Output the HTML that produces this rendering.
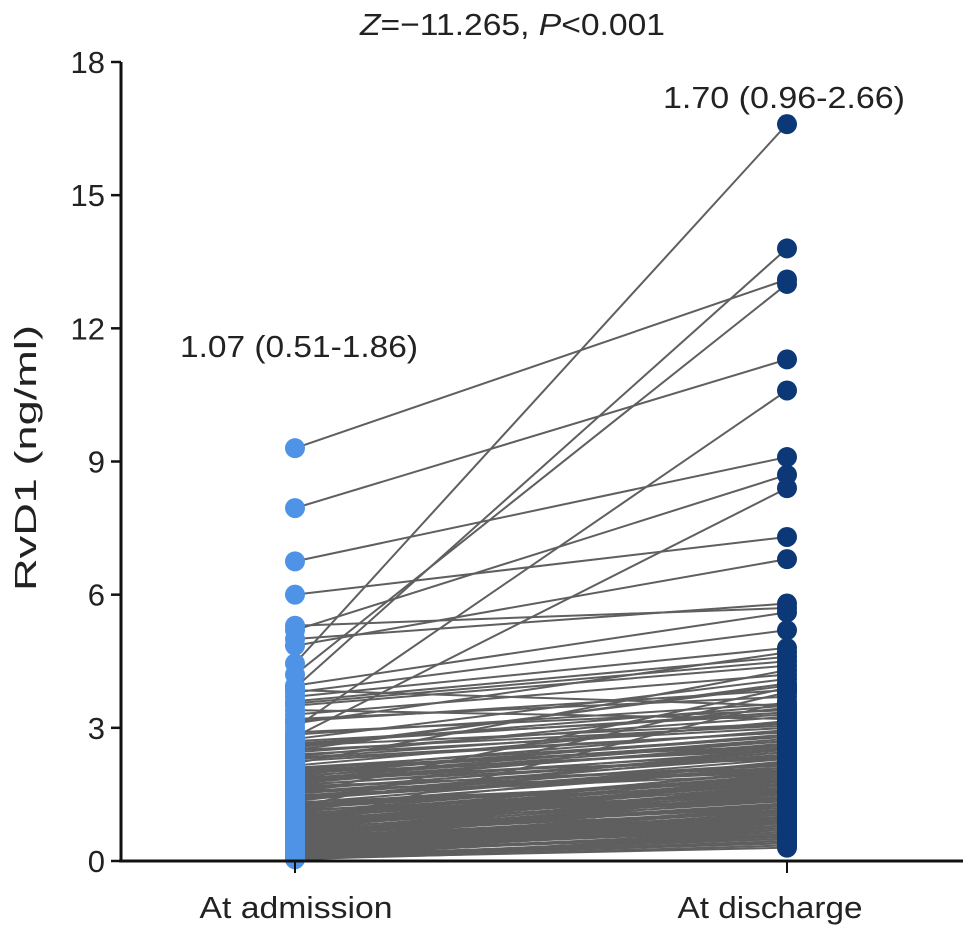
<!DOCTYPE html>
<html><head><meta charset="utf-8"><style>
body{margin:0;background:#fff;width:969px;height:938px;overflow:hidden}
svg text{font-family:"Liberation Sans",Arial,sans-serif;fill:#222}
</style></head><body>
<svg id="chart" width="969" height="938" viewBox="0 0 969 938"></svg>
<script>
const groups = ["At admission", "At discharge"];
const yTicks = [0, 3, 6, 9, 12, 15, 18];
const admission = [9.3,7.95,6.75,6.0,5.3,5.2,5.0,4.85,4.45,4.2,3.9,3.0,2.8,3.8,3.7,3.85,3.6,3.5,3.3,2.5,1.5,3.95,3.1,2.2,1.2,0.8,
3.4,3.2,2.9,2.7,2.6,2.4,2.3,2.1,2.0,1.9,1.8,1.7,1.6,1.45,1.4,1.3,1.25,1.1,1.05,1.0,0.95,0.9,0.85,0.75,0.7,0.65,0.6,0.55,0.5,0.45,0.4,0.35,0.3,0.25,0.2,0.15,0.1,0.05,
2.75,2.55,2.35,2.15,1.95,1.75,1.55,1.35,1.15,0.98,0.88,0.78,0.68,0.58,0.48,0.38,0.28,0.18,0.12,0.08,
3.55,3.15,2.85,2.45,2.05,1.65,1.22,1.02,0.92,0.72,0.52,0.42,0.32,0.22,0.14,0.06,1.85,1.62,1.38,1.18,0.82,0.62,0.36,0.24,
2.65,2.5,2.25,2.1,1.98,1.88,1.78,1.68,1.58,1.48,1.32,1.28,1.15,1.08,0.97,0.87,0.77,0.67,0.57,0.47,0.37,0.27,0.17,0.11,0.07,0.04,
1.92,1.72,1.52,1.42,1.26,1.12,0.99,0.89,0.79,0.69,0.59,0.49,0.39,0.29,0.19,0.13,0.09,0.05,2.62,2.32,2.02,1.82,1.44,1.06,0.86,0.66,0.46,0.26,0.16,0.1];
const discharge = [13.1,11.3,9.1,7.3,5.7,8.7,5.8,6.8,16.6,13.0,13.8,10.6,8.4,5.2,4.8,3.5,4.6,4.4,4.2,4.0,3.9,5.6,4.7,4.3,3.8,3.6,
3.2,3.7,3.4,3.3,3.1,3.0,2.9,2.8,2.7,2.75,2.6,2.5,2.45,2.4,2.3,2.2,2.1,2.0,1.95,1.9,1.85,1.8,1.7,1.6,1.55,1.5,1.45,1.4,1.3,1.2,1.15,1.1,1.0,0.95,0.9,0.8,0.7,0.6,
4.1,3.95,3.45,3.15,2.85,2.65,2.35,2.55,2.25,2.05,1.75,1.65,1.35,1.25,1.05,0.85,0.75,0.65,0.5,0.45,
4.5,3.85,3.55,3.25,2.95,2.15,1.9,1.72,1.58,1.42,1.12,0.98,0.88,0.55,0.4,0.3,2.7,2.4,2.2,1.9,1.6,1.3,0.9,0.7,
3.35,3.05,2.9,2.6,2.5,2.3,2.45,2.1,2.0,1.95,1.8,1.7,1.6,1.5,1.4,1.35,1.2,1.1,1.0,0.9,0.8,0.7,0.6,0.5,0.4,0.35,
2.55,2.35,2.2,2.05,1.85,1.75,1.65,1.55,1.45,1.25,1.15,1.05,0.95,0.85,0.75,0.65,0.55,0.45,3.5,3.1,2.8,2.6,2.1,1.8,1.5,1.2,1.0,0.8,0.6,0.5];
const summaries = ["1.07 (0.51-1.86)", "1.70 (0.96-2.66)"];

const NS="http://www.w3.org/2000/svg";
const svg=document.getElementById('chart');
const X0=121, XEND=963, Y0=861, Y18=62;
const y=v=>Y0-(v/18)*(Y0-Y18);
const xPos=[295,787];
const x=i=>xPos[i];
function mk(tag,attrs,text){const e=document.createElementNS(NS,tag);for(const k in attrs)e.setAttribute(k,attrs[k]);if(text!=null)e.textContent=text;svg.appendChild(e);return e;}

for(let i=0;i<admission.length;i++){
  const l=mk('line',{x1:x(0),y1:y(admission[i]),x2:x(1),y2:y(discharge[i]),stroke:'#5f5f5f','stroke-width':2});
  
  
}
const cols=['#4f93e6','#0d3878'];
[admission,discharge].forEach((arr,g)=>{
  arr.forEach(v=>{
    const c=mk('circle',{cx:x(g),cy:y(v),r:10,fill:cols[g]});
    
    
  });
});
let a=mk('line',{x1:X0,y1:Y18,x2:X0,y2:Y0+1,stroke:'#111','stroke-width':3});


a=mk('line',{x1:X0-2,y1:Y0,x2:XEND,y2:Y0,stroke:'#111','stroke-width':3});


yTicks.forEach(t=>{
  const tk=mk('line',{x1:X0-10,y1:y(t),x2:X0,y2:y(t),stroke:'#111','stroke-width':2.5});
  
  
  const lb=mk('text',{x:X0-16,y:y(t)+11,'text-anchor':'end','font-size':31},String(t));
  
  
});
const xlw=[193,185], xlc=[296,770];
groups.forEach((g,i)=>{
  const tk=mk('line',{x1:x(i),y1:Y0,x2:x(i),y2:Y0+12,stroke:'#111','stroke-width':2});
  
  
  const lb=mk('text',{x:xlc[i]-xlw[i]/2,y:918,'font-size':31,textLength:xlw[i],lengthAdjust:'spacingAndGlyphs'},g);
  
  
});
let t=mk('text',{x:0,y:0,'font-size':31,textLength:266,lengthAdjust:'spacingAndGlyphs',transform:'translate(36 591) rotate(-90)'},'RvD1 (ng/ml)');


t=mk('text',{x:180,y:357,'font-size':31,textLength:238,lengthAdjust:'spacingAndGlyphs'},summaries[0]);


t=mk('text',{x:663,y:108,'font-size':31,textLength:242,lengthAdjust:'spacingAndGlyphs'},summaries[1]);


t=mk('text',{x:360,y:35,'font-size':31,textLength:305,lengthAdjust:'spacingAndGlyphs'});
t.innerHTML='<tspan font-style="italic">Z</tspan>=−11.265, <tspan font-style="italic">P</tspan>&lt;0.001';


</script>
</body></html>
